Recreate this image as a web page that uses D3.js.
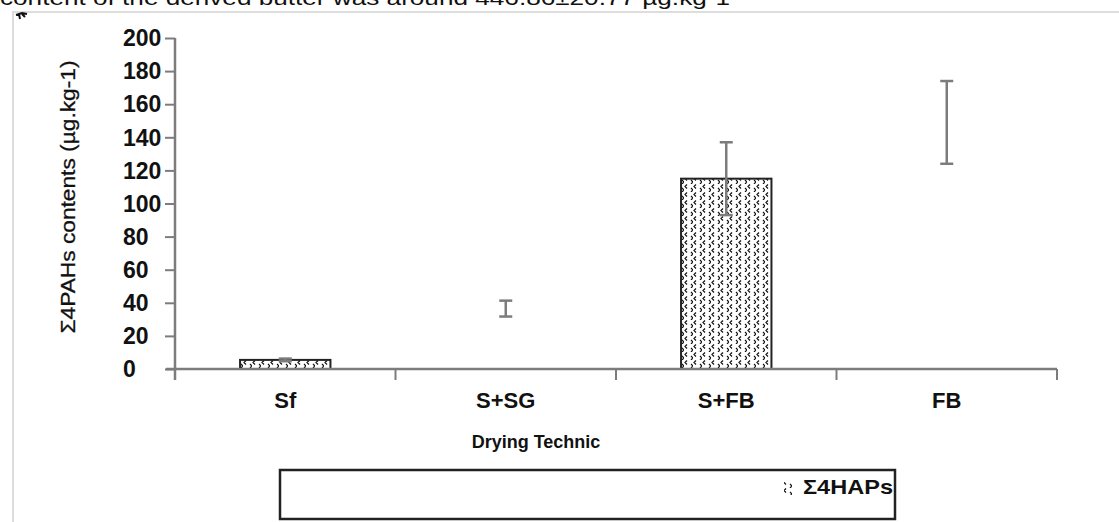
<!DOCTYPE html>
<html>
<head>
<meta charset="utf-8">
<script src="https://cdn.jsdelivr.net/npm/d3@7"></script>
<style>
  body { margin: 0; background: #fff; overflow: hidden }
  svg { display: block; font-family: 'Liberation Sans', Arial, sans-serif }
</style>
</head>
<body>
<div id="chart"></div>
<script>
const categories = ['Sf', 'S+SG', 'S+FB', 'FB']
const means = [5.5, 36.5, 115, 149]
const errors = [0.8, 4.8, 22, 25]
const barShown = [true, false, true, false]
const yTicks = [0, 20, 40, 60, 80, 100, 120, 140, 160, 180, 200]
const seriesName = 'Σ4HAPs'

const width = 1119
const height = 522
const grey = '#7c7c7c'

const svg = d3
  .select('#chart')
  .append('svg')
  .attr('width', width)
  .attr('height', height)

// hatch-like fill of the bars
const pat = svg.append('defs')
  .append('pattern')
  .attr('id', 'dots')
  .attr('patternUnits', 'userSpaceOnUse')
  .attr('width', 9)
  .attr('height', 8)
pat.append('rect').attr('width', 9).attr('height', 8).attr('fill', '#fff')
pat.append('path')
  .attr('d', 'M3,0.5 L1,2.5 L3,4.5 M7,4 L9,6 L7,8')
  .attr('fill', 'none')
  .attr('stroke', '#111')
  .attr('stroke-width', 1.2)

// page fragment above the figure
svg.append('text')
  .attr('x', 0)
  .attr('y', 5)
  .attr('font-family', 'Arial, Liberation Sans, sans-serif')
  .attr('font-size', 20)
  .attr('textLength', 730)
  .attr('lengthAdjust', 'spacingAndGlyphs')
  .attr('fill', '#111')
  .text('content of the derived butter was around 446.86±20.77 µg.kg-1')

svg.append('line')
  .attr('x1', 12).attr('x2', width).attr('y1', 12).attr('y2', 12)
  .attr('stroke', '#ddd').attr('stroke-width', 2)
svg.append('line')
  .attr('x1', 13).attr('x2', 13).attr('y1', 12).attr('y2', height)
  .attr('stroke', '#ddd').attr('stroke-width', 2)
svg.append('path')
  .attr('d', 'M16,15 L22,13 L27,14 M19,14 L20,19 M22,14 L25,17')
  .attr('fill', 'none').attr('stroke', '#111').attr('stroke-width', 2)

const x = d3.scaleBand()
  .domain(categories)
  .range([175, 1057])
  .paddingInner(0)

const y = d3.scaleLinear()
  .domain([0, 200])
  .range([369, 38])

const bw = x.bandwidth() * 0.41

// bars
svg.append('g')
  .selectAll('rect')
  .data(categories)
  .join('rect')
  .attr('x', (d) => x(d) + x.bandwidth() / 2 - bw / 2)
  .attr('y', (d, i) => y(means[i]))
  .attr('width', bw)
  .attr('height', (d, i) => y(0) - y(means[i]))
  .attr('fill', (d, i) => barShown[i] ? 'url(#dots)' : 'none')
  .attr('stroke', (d, i) => barShown[i] ? '#222' : 'none')
  .attr('stroke-width', 2)

// error bars
const eb = svg.append('g')
  .attr('stroke', grey)
  .attr('stroke-width', 2.5)
  .selectAll('g')
  .data(categories)
  .join('g')
  .attr('transform', (d) => `translate(${x(d) + x.bandwidth() / 2},0)`)

eb.append('line')
  .attr('y1', (d, i) => y(means[i] + errors[i]))
  .attr('y2', (d, i) => y(means[i] - errors[i]))
eb.append('line')
  .attr('x1', -6.5).attr('x2', 6.5)
  .attr('y1', (d, i) => y(means[i] + errors[i]))
  .attr('y2', (d, i) => y(means[i] + errors[i]))
eb.append('line')
  .attr('x1', -6.5).attr('x2', 6.5)
  .attr('y1', (d, i) => y(means[i] - errors[i]))
  .attr('y2', (d, i) => y(means[i] - errors[i]))

// y axis
const yAxis = svg.append('g')
  .attr('transform', 'translate(175,0)')
  .call(d3.axisLeft(y).tickValues(yTicks).tickSize(10).tickFormat(''))
yAxis.select('.domain').remove()
yAxis.selectAll('line').attr('stroke', grey).attr('stroke-width', 2)
svg.append('line')
  .attr('x1', 175).attr('x2', 175).attr('y1', y(200)).attr('y2', 380)
  .attr('stroke', grey).attr('stroke-width', 2.5)

svg.append('g')
  .selectAll('text')
  .data(yTicks)
  .join('text')
  .attr('x', 123)
  .attr('y', (d) => y(d))
  .attr('dy', '0.36em')
  .attr('font-size', 23)
  .attr('font-weight', 'bold')
  .attr('fill', '#111')
  .text((d) => d)

// x axis
const xAxis = svg.append('g')
  .attr('transform', `translate(0,${y(0)})`)
  .call(d3.axisBottom(x).tickSize(0).tickFormat(''))
xAxis.select('.domain').remove()
svg.append('line')
  .attr('x1', 166).attr('x2', 1057).attr('y1', y(0)).attr('y2', y(0))
  .attr('stroke', grey).attr('stroke-width', 2.5)
svg.append('g')
  .selectAll('line')
  .data(categories.slice(1).concat(['end']))
  .join('line')
  .attr('x1', (d) => d === 'end' ? 1057 : x(d))
  .attr('x2', (d) => d === 'end' ? 1057 : x(d))
  .attr('y1', y(0))
  .attr('y2', y(0) + 11)
  .attr('stroke', grey)
  .attr('stroke-width', 2)

svg.append('g')
  .selectAll('text')
  .data(categories)
  .join('text')
  .attr('x', (d) => x(d) + x.bandwidth() / 2)
  .attr('y', 408)
  .attr('text-anchor', 'middle')
  .attr('font-size', 22)
  .attr('font-weight', 'bold')
  .attr('fill', '#111')
  .text((d) => d)

// axis titles
svg.append('text')
  .attr('x', 536)
  .attr('y', 448)
  .attr('text-anchor', 'middle')
  .attr('font-size', 18)
  .attr('font-weight', 'bold')
  .attr('fill', '#111')
  .text('Drying Technic')

svg.append('text')
  .attr('transform', 'translate(75,197) rotate(-90)')
  .attr('text-anchor', 'middle')
  .attr('font-size', 21)
  .attr('textLength', 273)
  .attr('lengthAdjust', 'spacingAndGlyphs')
  .attr('fill', '#111')
  .attr('stroke', '#111')
  .attr('stroke-width', 0.3)
  .text('Σ4PAHs contents (µg.kg-1)')

// legend
svg.append('rect')
  .attr('x', 280).attr('y', 470)
  .attr('width', 615).attr('height', 49)
  .attr('fill', '#fff')
  .attr('stroke', '#222')
  .attr('stroke-width', 2.5)
svg.append('rect')
  .attr('x', 784).attr('y', 482)
  .attr('width', 8).attr('height', 13)
  .attr('fill', 'url(#dots)')
svg.append('text')
  .attr('x', 803)
  .attr('y', 494)
  .attr('font-size', 21)
  .attr('font-weight', 'bold')
  .attr('textLength', 90)
  .attr('lengthAdjust', 'spacingAndGlyphs')
  .attr('fill', '#111')
  .text(seriesName)
</script>
</body>
</html>
